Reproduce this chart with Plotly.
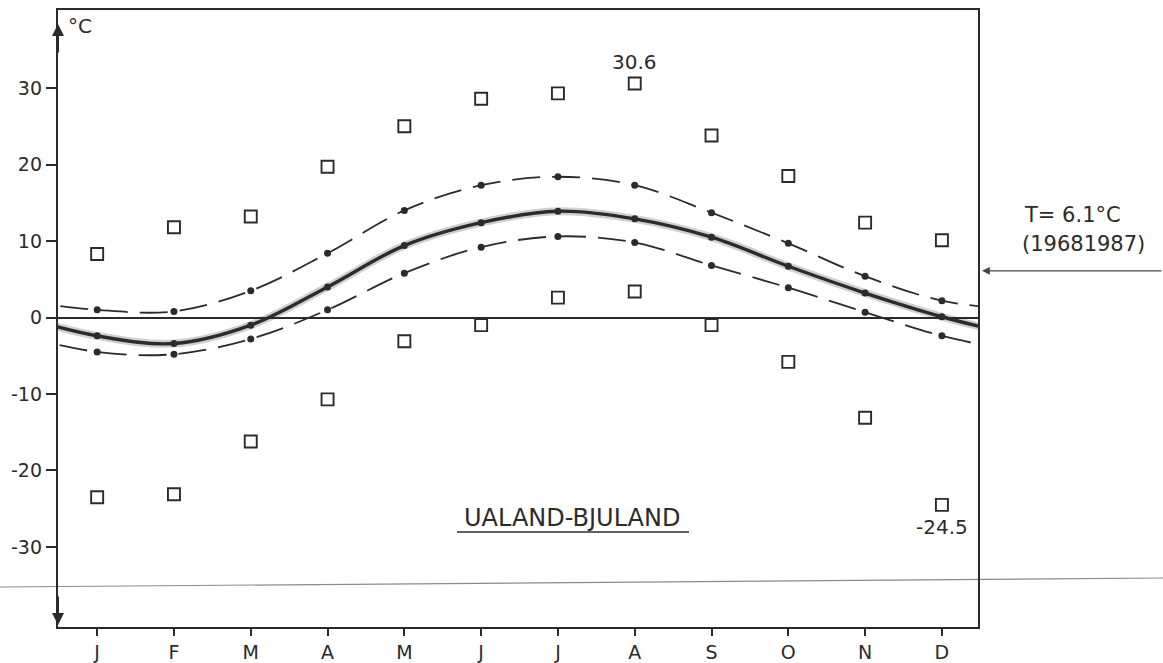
import plotly.graph_objects as go

# ---------------- data ----------------
months = ['J', 'F', 'M', 'A', 'M', 'J', 'J', 'A', 'S', 'O', 'N', 'D']
month_idx = list(range(12))

abs_max = [8.3, 11.8, 13.2, 19.7, 25.0, 28.6, 29.3, 30.6, 23.8, 18.5, 12.4, 10.1]
abs_min = [-23.5, -23.1, -16.2, -10.7, -3.1, -1.0, 2.6, 3.4, -1.0, -5.8, -13.1, -24.5]
mean_max = [1.0, 0.8, 3.5, 8.4, 14.0, 17.3, 18.4, 17.3, 13.7, 9.7, 5.4, 2.2]
mean_t = [-2.4, -3.4, -1.0, 4.0, 9.4, 12.4, 13.9, 12.9, 10.5, 6.7, 3.2, 0.1]
mean_min = [-4.5, -4.8, -2.8, 1.0, 5.8, 9.2, 10.6, 9.8, 6.8, 3.9, 0.7, -2.4]

y_ticks = [-30, -20, -10, 0, 10, 20, 30]
y_tick_text = ['-30', '-20', '-10', '0', '10', '20', '30']

station = 'UALAND-BJULAND'
annual_mean = 6.1
period = '(19681987)'
max_label = '30.6'
min_label = '-24.5'

# ---------------- layout geometry ----------------
W, H = 1163, 663
L, R, T, B = 58, 185, 10, 36
PW, PH = W - L - R, H - T - B


def px(xp):
    return (xp - L) / PW


def py(yp):
    return (H - B - yp) / PH


ink = '#2b2b2b'
font = 'DejaVu Sans, Liberation Sans, Arial, sans-serif'


def wrap(vals):
    # annual cycle is periodic: continue the curve with Dec before Jan and Jan after Dec
    return [vals[-1]] + vals + [vals[0]]


x_wrap = [-1] + month_idx + [12]

fig = go.Figure()

# dashed mean max / mean min curves
for series in (mean_max, mean_min):
    fig.add_trace(go.Scatter(x=x_wrap, y=wrap(series), mode='lines',
                             line=dict(color=ink, width=1.8, dash='28px,12px', shape='spline'),
                             hoverinfo='skip', showlegend=False))
    fig.add_trace(go.Scatter(x=month_idx, y=series, mode='markers',
                             marker=dict(symbol='circle', size=7, color=ink),
                             showlegend=False))

# mean curve with a soft halo (scan blur)
fig.add_trace(go.Scatter(x=x_wrap, y=wrap(mean_t), mode='lines',
                         line=dict(color='rgba(40,40,40,0.22)', width=8, shape='spline'),
                         hoverinfo='skip', showlegend=False))
fig.add_trace(go.Scatter(x=x_wrap, y=wrap(mean_t), mode='lines',
                         line=dict(color=ink, width=3.4, shape='spline'),
                         hoverinfo='skip', showlegend=False))
fig.add_trace(go.Scatter(x=month_idx, y=mean_t, mode='markers',
                         marker=dict(symbol='circle', size=7, color=ink),
                         showlegend=False))

# absolute extremes
for series in (abs_max, abs_min):
    fig.add_trace(go.Scatter(x=month_idx, y=series, mode='markers',
                             marker=dict(symbol='square-open', size=12,
                                         color=ink, line=dict(color=ink, width=1.9)),
                             showlegend=False))


def label(x, y, text, size, xref='paper', yref='paper', xanchor='center', **kw):
    d = dict(x=x, y=y, xref=xref, yref=yref, text=text, showarrow=False,
             xanchor=xanchor, yanchor='middle',
             font=dict(size=size, color=ink, family=font))
    d.update(kw)
    return d


annotations = [
    label(7, abs_max[7], max_label, 20, xref='x', yref='y', yshift=21),
    label(11, abs_min[11], min_label, 20, xref='x', yref='y', yshift=-22),
    label(px(66), py(26), '°C', 20, xanchor='left'),
    label(px(572), py(518), station, 24),
    label(px(1072), py(215), f'T= {annual_mean}°C', 21),
    label(px(1083), py(244), period, 21),
    # arrow pointing to the annual mean
    dict(x=px(982), y=annual_mean, xref='paper', yref='y', text='', showarrow=True,
         ax=181, ay=0, axref='pixel', ayref='pixel',
         arrowhead=2, arrowsize=1.2, arrowwidth=1.3, arrowcolor='#444'),
    # arrowheads on the vertical axis
    dict(x=0, y=py(24), xref='paper', yref='paper', text='', showarrow=True,
         ax=0, ay=30, arrowhead=2, arrowsize=1.2, arrowwidth=2, arrowcolor=ink),
    dict(x=0, y=py(625), xref='paper', yref='paper', text='', showarrow=True,
         ax=0, ay=-30, arrowhead=2, arrowsize=1.2, arrowwidth=2, arrowcolor=ink),
]

shapes = [
    # underline of the station name
    dict(type='line', xref='paper', yref='paper', x0=px(457), x1=px(689),
         y0=py(532), y1=py(532), line=dict(color=ink, width=1.6)),
    # faint page line crossing the scan
    dict(type='line', xref='paper', yref='paper', x0=px(0), x1=px(W),
         y0=py(587), y1=py(578), line=dict(color='#8a8a8a', width=1.2), layer='below'),
]

fig.update_layout(
    width=W, height=H, autosize=False,
    margin=dict(l=L, r=R, t=T, b=B, pad=0),
    paper_bgcolor='white', plot_bgcolor='white',
    showlegend=False,
    annotations=annotations,
    shapes=shapes,
    font=dict(family=font, color=ink),
    xaxis=dict(range=[-0.51, 11.47], tickvals=month_idx, ticktext=months,
               automargin=False,
               showgrid=False, zeroline=False, showline=True, mirror=True,
               linecolor=ink, linewidth=2, ticks='outside', ticklen=7,
               tickwidth=2, tickcolor=ink, tickfont=dict(size=19, color=ink, family=font)),
    yaxis=dict(range=[-40.46, 40.2], tickvals=y_ticks, ticktext=y_tick_text,
               automargin=False,
               showgrid=False, zeroline=True, zerolinecolor=ink, zerolinewidth=1.5,
               showline=True, mirror=True, linecolor=ink, linewidth=2.4,
               ticks='outside', ticklen=10, tickwidth=1.5, tickcolor=ink,
               tickfont=dict(size=19, color=ink, family=font)),
)

fig.write_html('out.html')
